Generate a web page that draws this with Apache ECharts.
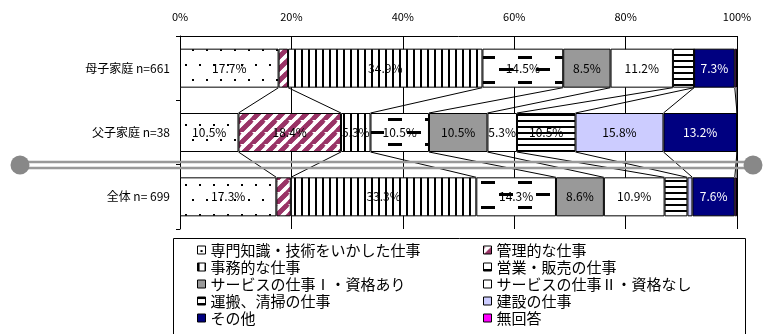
<!DOCTYPE html>
<html><head><meta charset="utf-8">
<script src="https://cdn.jsdelivr.net/npm/echarts@6/dist/echarts.min.js"></script>
<style>html,body{margin:0;padding:0;background:#fff}#c{width:768px;height:334px}</style>
</head><body><div id="c"></div>
<script>
const categories = ['母子家庭 n=661', '父子家庭 n=38', '全体 n= 699'];
const seriesNames = ['専門知識・技術をいかした仕事', '管理的な仕事', '事務的な仕事', '営業・販売の仕事', 'サービスの仕事Ⅰ・資格あり', 'サービスの仕事Ⅱ・資格なし', '運搬、清掃の仕事', '建設の仕事', 'その他', '無回答'];
const senmon   = [17.7, 10.5, 17.3];
const kanri    = [1.7, 18.4, 2.6];
const jimu     = [34.9, 5.3, 33.3];
const eigyo    = [14.5, 10.5, 14.3];
const service1 = [8.5, 10.5, 8.6];
const service2 = [11.2, 5.3, 10.9];
const unpan    = [3.8, 10.5, 4.1];
const kensetsu = [0, 15.8, 0.9];
const sonota   = [7.3, 13.2, 7.6];
const mukaito  = [0.4, 0, 0.4];
const xTicks = [0, 20, 40, 60, 80, 100];

const values = [senmon, kanri, jimu, eigyo, service1, service2, unpan, kensetsu, sonota, mukaito];

function tile(w, h, draw) {
  const c = document.createElement('canvas');
  c.width = w; c.height = h;
  const ctx = c.getContext('2d');
  ctx.fillStyle = '#fff'; ctx.fillRect(0, 0, w, h);
  draw(ctx);
  return { image: c, repeat: 'repeat' };
}
const pDots = tile(14, 30, ctx => { ctx.fillStyle = '#000'; ctx.fillRect(3, 4, 2, 2); ctx.fillRect(10, 19, 2, 2); });
const pDiag = tile(12, 12, ctx => {
  ctx.strokeStyle = '#993366'; ctx.lineWidth = 4.5;
  [[-12, 12, 0, 0], [0, 12, 12, 0], [0, 24, 24, 0]].forEach(s => {
    ctx.beginPath(); ctx.moveTo(s[0], s[1]); ctx.lineTo(s[2], s[3]); ctx.stroke();
  });
  ctx.beginPath(); ctx.moveTo(-6, 18); ctx.lineTo(18, -6); ctx.stroke();
});
const pVert = tile(7, 4, ctx => { ctx.fillStyle = '#000'; ctx.fillRect(0, 0, 2, 4); });
const pDash = tile(37, 25, ctx => { ctx.fillStyle = '#000'; ctx.fillRect(0, 6, 14, 3); ctx.fillRect(18, 18, 14, 3); });
const pHorz = tile(4, 6, ctx => { ctx.fillStyle = '#000'; ctx.fillRect(0, 0, 4, 2); });

const fills = [pDots, pDiag, pVert, pDash, '#999999', '#ffffff', pHorz, '#ccccff', '#000080', '#ff00ff'];
const BAR_W = 39;
const FONT = '"Noto Sans CJK JP", sans-serif';

const series = seriesNames.map((name, s) => ({
  name, type: 'bar', stack: 'total', barWidth: BAR_W,
  data: values[s],
  itemStyle: { color: fills[s], borderColor: '#000', borderWidth: 1 },
  label: {
    show: true, position: 'inside', fontSize: 12, fontFamily: FONT,
    color: s === 8 ? '#fff' : '#000',
    formatter: p => p.value >= 5 ? p.value.toFixed(1) + '%' : ''
  },
  emphasis: { disabled: true }
}));

// connector lines between bar boundaries
const cum = categories.map((c, i) => { let a = 0; const r = [0]; values.forEach(v => { a += v[i]; r.push(a); }); return r; });
const connData = [];
for (let i = 0; i < categories.length - 1; i++) {
  for (let k = 1; k <= values.length; k++) connData.push([cum[i][k], i, cum[i + 1][k], i + 1]);
}
series.push({
  type: 'custom', name: 'conn', silent: true, z: 1,
  encode: { x: [0, 2], y: [1, 3] },
  data: connData,
  renderItem: (params, api) => {
    const p1 = api.coord([api.value(0), api.value(1)]);
    const p2 = api.coord([api.value(2), api.value(3)]);
    return { type: 'line', shape: { x1: p1[0], y1: p1[1] + BAR_W / 2, x2: p2[0], y2: p2[1] - BAR_W / 2 },
      style: { stroke: '#000', lineWidth: 1 } };
  }
});

const legendCommon = {
  orient: 'vertical', itemWidth: 8, itemHeight: 8, itemGap: 1, icon: 'rect',
  height: 140, padding: 0,
  itemStyle: { borderColor: '#000', borderWidth: 1 },
  textStyle: { fontSize: 15, lineHeight: 16, fontFamily: FONT, color: '#000' },
  selectedMode: false
};

const chart = echarts.init(document.getElementById('c'), null, { renderer: 'canvas' });
chart.setOption({
  animation: false,
  grid: { left: 180, right: 31, top: 36, bottom: 105 },
  xAxis: {
    type: 'value', position: 'top', min: xTicks[0], max: xTicks[xTicks.length - 1], interval: 20,
    axisLine: { show: true, lineStyle: { color: '#000' } },
    axisTick: { show: false },
    axisLabel: { formatter: '{value}%', fontSize: 11, color: '#000', margin: 14, fontFamily: FONT },
    splitLine: { show: true, lineStyle: { color: '#000', width: 1 } }
  },
  yAxis: {
    type: 'category', data: categories, inverse: true,
    axisLine: { show: true, lineStyle: { color: '#000' } },
    axisTick: { show: true, length: 4, lineStyle: { color: '#000' } },
    axisLabel: { fontSize: 12, color: '#000', margin: 10, fontFamily: FONT }
  },
  legend: [
    Object.assign({ left: 197, top: 242, data: [seriesNames[0], seriesNames[2], seriesNames[4], seriesNames[6], seriesNames[8]] }, legendCommon),
    Object.assign({ left: 483, top: 242, data: [seriesNames[1], seriesNames[3], seriesNames[5], seriesNames[7], seriesNames[9]] }, legendCommon)
  ],
  graphic: [
    { type: 'rect', shape: { x: 173.5, y: 238.5, width: 572, height: 110 }, style: { fill: 'none', stroke: '#000', lineWidth: 1 }, z: 0 },
    { type: 'line', shape: { x1: 20, y1: 162, x2: 753, y2: 162 }, style: { stroke: '#999', lineWidth: 2.5 }, z: 100 },
    { type: 'line', shape: { x1: 20, y1: 168, x2: 753, y2: 168 }, style: { stroke: '#999', lineWidth: 2.5 }, z: 100 },
    { type: 'circle', shape: { cx: 20, cy: 165, r: 9.5 }, style: { fill: '#888' }, z: 101 },
    { type: 'circle', shape: { cx: 753, cy: 165, r: 9.5 }, style: { fill: '#888' }, z: 101 }
  ],
  series
});
</script></body></html>
